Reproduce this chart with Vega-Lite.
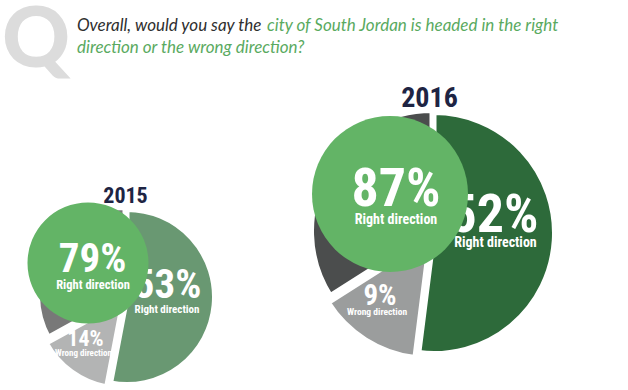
{
  "$schema": "https://vega.github.io/schema/vega-lite/v6.json",
  "width": 628,
  "height": 390,
  "padding": 0,
  "autosize": {"type": "none"},
  "background": "white",
  "config": {"view": {"stroke": null}, "text": {"font": "Roboto Condensed, DejaVu Sans Condensed, Noto Sans Condensed, Open Sans Condensed, Roboto, sans-serif"}},
  "datasets": {
    "slices": [
      {"year": "2015", "response": "Right direction", "rank": 1, "share": 53, "label": "53%"},
      {"year": "2015", "response": "Wrong direction", "rank": 2, "share": 14, "label": "14%"},
      {"year": "2015", "response": "Other", "rank": 3, "share": 33, "label": ""},
      {"year": "2016", "response": "Right direction", "rank": 1, "share": 52, "label": "52%"},
      {"year": "2016", "response": "Wrong direction", "rank": 2, "share": 14, "label": "9%"},
      {"year": "2016", "response": "Other", "rank": 3, "share": 34, "label": ""}
    ],
    "totals": [
      {"year": "2015", "response": "Right direction", "share": 79, "label": "79%"},
      {"year": "2016", "response": "Right direction", "share": 87, "label": "87%"}
    ]
  },
  "layer": [
    {
      "data": {"values": [{}]},
      "mark": {"type": "text", "text": "Q", "x": 2, "y": 67, "align": "left", "baseline": "alphabetic", "font": "Lato", "fontWeight": 900, "fontSize": 84, "color": "#dcdcdc"},
      "encoding": {}
    },
    {
      "data": {"values": [{}]},
      "mark": {"type": "text", "text": "Overall, would you say the", "x": 77, "y": 31, "align": "left", "baseline": "alphabetic", "font": "Lato", "fontStyle": "italic", "fontSize": 17, "color": "#2f2f2f"},
      "encoding": {}
    },
    {
      "data": {"values": [{}]},
      "mark": {"type": "text", "text": "city of South Jordan is headed in the right", "x": 267, "y": 31, "align": "left", "baseline": "alphabetic", "font": "Lato", "fontStyle": "italic", "fontSize": 17, "color": "#5aaa5f"},
      "encoding": {}
    },
    {
      "data": {"values": [{}]},
      "mark": {"type": "text", "text": "direction or the wrong direction?", "x": 77, "y": 53, "align": "left", "baseline": "alphabetic", "font": "Lato", "fontStyle": "italic", "fontSize": 17, "color": "#5aaa5f"},
      "encoding": {}
    },
    {
      "data": {"name": "slices"},
      "transform": [
        {"stack": "share", "groupby": ["year"], "sort": [{"field": "rank", "order": "ascending"}], "as": ["start", "end"]},
        {"filter": "datum.year == '2015' && datum.response == 'Right direction'"}
      ],
      "mark": {"type": "arc", "radius": 87.5, "stroke": "white", "strokeWidth": 5, "color": "#699872"},
      "encoding": {
        "x": {"field": "year", "type": "ordinal", "scale": {"type": "point", "range": [127, 434], "padding": 0}, "axis": null},
        "y": {"field": "year", "type": "ordinal", "scale": {"type": "point", "range": [297, 233], "padding": 0}, "axis": null},
        "theta": {"field": "start", "type": "quantitative", "scale": {"domain": [0, 100]}},
        "theta2": {"field": "end"}
      }
    },
    {
      "data": {"name": "slices"},
      "transform": [
        {"stack": "share", "groupby": ["year"], "sort": [{"field": "rank", "order": "ascending"}], "as": ["start", "end"]},
        {"filter": "datum.year == '2015' && datum.response == 'Wrong direction'"}
      ],
      "mark": {"type": "arc", "radius": 87.5, "stroke": "white", "strokeWidth": 5, "color": "#b3b4b4", "xOffset": -4, "yOffset": 4},
      "encoding": {
        "x": {"field": "year", "type": "ordinal"},
        "y": {"field": "year", "type": "ordinal"},
        "theta": {"field": "start", "type": "quantitative"},
        "theta2": {"field": "end"}
      }
    },
    {
      "data": {"name": "slices"},
      "transform": [
        {"stack": "share", "groupby": ["year"], "sort": [{"field": "rank", "order": "ascending"}], "as": ["start", "end"]},
        {"filter": "datum.year == '2015' && datum.response == 'Other'"}
      ],
      "mark": {"type": "arc", "radius": 87.5, "stroke": "white", "strokeWidth": 5, "color": "#787878", "xOffset": -2, "yOffset": -2},
      "encoding": {
        "x": {"field": "year", "type": "ordinal"},
        "y": {"field": "year", "type": "ordinal"},
        "theta": {"field": "start", "type": "quantitative"},
        "theta2": {"field": "end"}
      }
    },
    {
      "data": {"name": "slices"},
      "transform": [
        {"stack": "share", "groupby": ["year"], "sort": [{"field": "rank", "order": "ascending"}], "as": ["start", "end"]},
        {"filter": "datum.year == '2016' && datum.response == 'Right direction'"}
      ],
      "mark": {"type": "arc", "radius": 120.5, "stroke": "white", "strokeWidth": 5, "color": "#2d6a3a"},
      "encoding": {
        "x": {"field": "year", "type": "ordinal"},
        "y": {"field": "year", "type": "ordinal"},
        "theta": {"field": "start", "type": "quantitative"},
        "theta2": {"field": "end"}
      }
    },
    {
      "data": {"name": "slices"},
      "transform": [
        {"stack": "share", "groupby": ["year"], "sort": [{"field": "rank", "order": "ascending"}], "as": ["start", "end"]},
        {"filter": "datum.year == '2016' && datum.response == 'Wrong direction'"}
      ],
      "mark": {"type": "arc", "radius": 120.5, "stroke": "white", "strokeWidth": 5, "color": "#9b9d9d", "xOffset": -4, "yOffset": 5},
      "encoding": {
        "x": {"field": "year", "type": "ordinal"},
        "y": {"field": "year", "type": "ordinal"},
        "theta": {"field": "start", "type": "quantitative"},
        "theta2": {"field": "end"}
      }
    },
    {
      "data": {"name": "slices"},
      "transform": [
        {"stack": "share", "groupby": ["year"], "sort": [{"field": "rank", "order": "ascending"}], "as": ["start", "end"]},
        {"filter": "datum.year == '2016' && datum.response == 'Other'"}
      ],
      "mark": {"type": "arc", "radius": 120.5, "stroke": "white", "strokeWidth": 5, "color": "#4b4d4d", "xOffset": -2, "yOffset": -2},
      "encoding": {
        "x": {"field": "year", "type": "ordinal"},
        "y": {"field": "year", "type": "ordinal"},
        "theta": {"field": "start", "type": "quantitative"},
        "theta2": {"field": "end"}
      }
    },
    {
      "data": {"name": "slices"},
      "transform": [{"filter": "datum.year == '2015' && datum.response == 'Right direction'"}],
      "mark": {"type": "text", "fontWeight": "bold", "fontSize": 41, "color": "white", "align": "center", "baseline": "alphabetic", "xOffset": 40.5, "yOffset": 1},
      "encoding": {"x": {"field": "year", "type": "ordinal"}, "y": {"field": "year", "type": "ordinal"}, "text": {"field": "label"}}
    },
    {
      "data": {"name": "slices"},
      "transform": [{"filter": "datum.year == '2015' && datum.response == 'Right direction'"}],
      "mark": {"type": "text", "fontWeight": "bold", "fontSize": 11, "color": "white", "align": "center", "baseline": "alphabetic", "xOffset": 40, "yOffset": 15.5},
      "encoding": {"x": {"field": "year", "type": "ordinal"}, "y": {"field": "year", "type": "ordinal"}, "text": {"field": "response"}}
    },
    {
      "data": {"name": "slices"},
      "transform": [{"filter": "datum.year == '2015' && datum.response == 'Wrong direction'"}],
      "mark": {"type": "text", "fontWeight": "bold", "fontSize": 22, "color": "white", "align": "center", "baseline": "alphabetic", "xOffset": -41.5, "yOffset": 49},
      "encoding": {"x": {"field": "year", "type": "ordinal"}, "y": {"field": "year", "type": "ordinal"}, "text": {"field": "label"}}
    },
    {
      "data": {"name": "slices"},
      "transform": [{"filter": "datum.year == '2015' && datum.response == 'Wrong direction'"}],
      "mark": {"type": "text", "fontWeight": "bold", "fontSize": 9, "color": "white", "align": "center", "baseline": "alphabetic", "xOffset": -43.5, "yOffset": 58.5},
      "encoding": {"x": {"field": "year", "type": "ordinal"}, "y": {"field": "year", "type": "ordinal"}, "text": {"field": "response"}}
    },
    {
      "data": {"name": "slices"},
      "transform": [{"filter": "datum.year == '2016' && datum.response == 'Right direction'"}],
      "mark": {"type": "text", "fontWeight": "bold", "fontSize": 54, "color": "white", "align": "center", "baseline": "alphabetic", "xOffset": 60, "yOffset": -1},
      "encoding": {"x": {"field": "year", "type": "ordinal"}, "y": {"field": "year", "type": "ordinal"}, "text": {"field": "label"}}
    },
    {
      "data": {"name": "slices"},
      "transform": [{"filter": "datum.year == '2016' && datum.response == 'Right direction'"}],
      "mark": {"type": "text", "fontWeight": "bold", "fontSize": 14, "color": "white", "align": "center", "baseline": "alphabetic", "xOffset": 61.5, "yOffset": 13.5},
      "encoding": {"x": {"field": "year", "type": "ordinal"}, "y": {"field": "year", "type": "ordinal"}, "text": {"field": "response"}}
    },
    {
      "data": {"name": "slices"},
      "transform": [{"filter": "datum.year == '2016' && datum.response == 'Wrong direction'"}],
      "mark": {"type": "text", "fontWeight": "bold", "fontSize": 29, "color": "white", "align": "center", "baseline": "alphabetic", "xOffset": -54, "yOffset": 72},
      "encoding": {"x": {"field": "year", "type": "ordinal"}, "y": {"field": "year", "type": "ordinal"}, "text": {"field": "label"}}
    },
    {
      "data": {"name": "slices"},
      "transform": [{"filter": "datum.year == '2016' && datum.response == 'Wrong direction'"}],
      "mark": {"type": "text", "fontWeight": "bold", "fontSize": 9.5, "color": "white", "align": "center", "baseline": "alphabetic", "xOffset": -57, "yOffset": 82},
      "encoding": {"x": {"field": "year", "type": "ordinal"}, "y": {"field": "year", "type": "ordinal"}, "text": {"field": "response"}}
    },
    {
      "data": {"name": "totals"},
      "transform": [{"filter": "datum.year == '2015'"}],
      "mark": {"type": "point", "shape": "circle", "filled": true, "color": "#63b466", "opacity": 1, "strokeWidth": 0, "size": 14641, "xOffset": -39, "yOffset": -34},
      "encoding": {"x": {"field": "year", "type": "ordinal"}, "y": {"field": "year", "type": "ordinal"}}
    },
    {
      "data": {"name": "totals"},
      "transform": [{"filter": "datum.year == '2016'"}],
      "mark": {"type": "point", "shape": "circle", "filled": true, "color": "#63b466", "opacity": 1, "strokeWidth": 0, "size": 24336, "xOffset": -44, "yOffset": -39},
      "encoding": {"x": {"field": "year", "type": "ordinal"}, "y": {"field": "year", "type": "ordinal"}}
    },
    {
      "data": {"name": "totals"},
      "transform": [{"filter": "datum.year == '2015'"}],
      "mark": {"type": "text", "fontWeight": "bold", "fontSize": 41, "color": "white", "align": "center", "baseline": "alphabetic", "xOffset": -34.5, "yOffset": -25},
      "encoding": {"x": {"field": "year", "type": "ordinal"}, "y": {"field": "year", "type": "ordinal"}, "text": {"field": "label"}}
    },
    {
      "data": {"name": "totals"},
      "transform": [{"filter": "datum.year == '2015'"}],
      "mark": {"type": "text", "fontWeight": "bold", "fontSize": 12.5, "color": "white", "align": "center", "baseline": "alphabetic", "xOffset": -34, "yOffset": -8.5},
      "encoding": {"x": {"field": "year", "type": "ordinal"}, "y": {"field": "year", "type": "ordinal"}, "text": {"field": "response"}}
    },
    {
      "data": {"name": "totals"},
      "transform": [{"filter": "datum.year == '2016'"}],
      "mark": {"type": "text", "fontWeight": "bold", "fontSize": 54, "color": "white", "align": "center", "baseline": "alphabetic", "xOffset": -38, "yOffset": -27},
      "encoding": {"x": {"field": "year", "type": "ordinal"}, "y": {"field": "year", "type": "ordinal"}, "text": {"field": "label"}}
    },
    {
      "data": {"name": "totals"},
      "transform": [{"filter": "datum.year == '2016'"}],
      "mark": {"type": "text", "fontWeight": "bold", "fontSize": 14, "color": "white", "align": "center", "baseline": "alphabetic", "xOffset": -38, "yOffset": -9.5},
      "encoding": {"x": {"field": "year", "type": "ordinal"}, "y": {"field": "year", "type": "ordinal"}, "text": {"field": "response"}}
    },
    {
      "data": {"name": "totals"},
      "transform": [{"filter": "datum.year == '2015'"}],
      "mark": {"type": "text", "fontWeight": "bold", "fontSize": 22, "color": "#1e2443", "align": "center", "baseline": "alphabetic", "xOffset": -1.5, "yOffset": -94},
      "encoding": {"x": {"field": "year", "type": "ordinal"}, "y": {"field": "year", "type": "ordinal"}, "text": {"field": "year"}}
    },
    {
      "data": {"name": "totals"},
      "transform": [{"filter": "datum.year == '2016'"}],
      "mark": {"type": "text", "fontWeight": "bold", "fontSize": 28, "color": "#1e2443", "align": "center", "baseline": "alphabetic", "xOffset": -4.5, "yOffset": -126},
      "encoding": {"x": {"field": "year", "type": "ordinal"}, "y": {"field": "year", "type": "ordinal"}, "text": {"field": "year"}}
    }
  ]
}
